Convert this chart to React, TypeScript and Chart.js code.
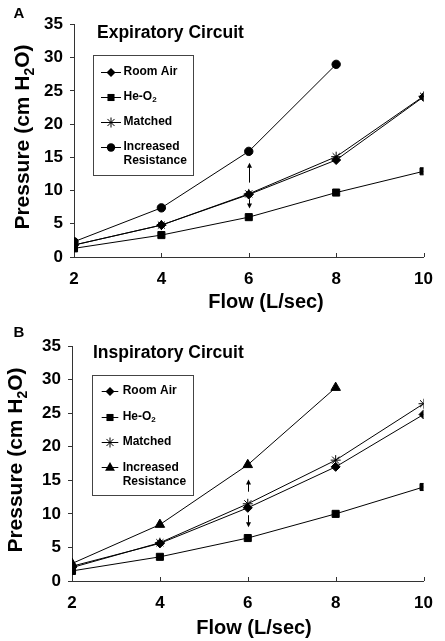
import React, { useEffect, useRef } from 'react';
import { Chart, registerables } from 'chart.js';

Chart.register(...registerables);

const FONT = '"Liberation Sans", Arial, Helvetica, sans-serif';

// ---------- data ----------
const flowAll = [2, 4, 6, 8, 10];
const flowIncreased = [2, 4, 6, 8];
const xTickValues = [2, 4, 6, 8, 10];
const yTickValues = [0, 5, 10, 15, 20, 25, 30, 35];

const legendLabels = ['Room Air', 'He-O2', 'Matched', 'Increased Resistance'];

// Panel A – Expiratory circuit
const expRoomAir = [1.8, 4.8, 9.4, 14.6, 24.1];
const expHeO2 = [1.3, 3.3, 6.0, 9.7, 12.9];
const expMatched = [1.8, 4.8, 9.5, 15.1, 24.2];
const expIncreased = [2.3, 7.4, 15.9, 29.0];
const expArrows = [
  [11.2, 14.2],
  [8.7, 7.3],
];

// Panel B – Inspiratory circuit
const inspRoomAir = [2.2, 5.6, 10.9, 17.0, 24.8];
const inspHeO2 = [1.5, 3.6, 6.4, 10.0, 14.0];
const inspMatched = [2.0, 5.7, 11.5, 18.0, 26.4];
const inspIncreased = [2.6, 8.4, 17.3, 28.8];
const inspArrows = [
  [13.3, 15.1],
  [9.8, 8.0],
];
const arrowFlow = 6;

type Marker = 'rectRot' | 'rect' | 'star' | 'circle' | 'triangle';

interface PanelCfg {
  letter: string;
  title: string;
  height: number;
  top: number;
  area: { l: number; r: number; t: number; b: number };
  values: number[][];
  markers: Marker[];
  arrows: number[][];
  letterPos: [number, number];
  titlePos: [number, number];
  yTitle: [number, number];
  xTitle: [number, number];
  legend: { x: number; y: number; w: number; h: number; lx0: number; lx1: number; tx: number; rows: number[]; line2: number };
}

const markerRadius: Record<Marker, number> = { rectRot: 4.5, rect: 5, star: 5, circle: 4.2, triangle: 5.5 };

const panels: PanelCfg[] = [
  {
    letter: 'A',
    title: 'Expiratory Circuit',
    height: 320,
    top: 0,
    area: { l: 74, r: 432, t: 24.5, b: 257 },
    values: [expRoomAir, expHeO2, expMatched, expIncreased],
    markers: ['rectRot', 'rect', 'star', 'circle'],
    arrows: expArrows,
    letterPos: [19, 14],
    titlePos: [97, 33],
    yTitle: [28.5, 137],
    xTitle: [266, 302],
    legend: { x: 92.5, y: 54.5, w: 100, h: 120, lx0: 101, lx1: 121, tx: 123.5, rows: [71.7, 96.7, 121.7, 146.7], line2: 14.3 },
  },
  {
    letter: 'B',
    title: 'Inspiratory Circuit',
    height: 321,
    top: 320,
    area: { l: 72, r: 432, t: 26, b: 261 },
    values: [inspRoomAir, inspHeO2, inspMatched, inspIncreased],
    markers: ['rectRot', 'rect', 'star', 'triangle'],
    arrows: inspArrows,
    letterPos: [19, 13],
    titlePos: [93, 33.3],
    yTitle: [21.5, 140],
    xTitle: [254, 308],
    legend: { x: 91.5, y: 55, w: 100.5, h: 119.5, lx0: 101.7, lx1: 118.3, tx: 122.7, rows: [70.7, 96.7, 121.7, 147.3], line2: 14.4 },
  },
];

function drawMarker(ctx: CanvasRenderingContext2D, m: Marker, x: number, y: number) {
  const r = markerRadius[m];
  ctx.save();
  ctx.fillStyle = '#000';
  ctx.strokeStyle = '#000';
  ctx.lineWidth = 1;
  ctx.beginPath();
  if (m === 'rectRot') {
    ctx.moveTo(x, y - r);
    ctx.lineTo(x + r, y);
    ctx.lineTo(x, y + r);
    ctx.lineTo(x - r, y);
    ctx.closePath();
    ctx.fill();
  } else if (m === 'rect') {
    const s = r * Math.SQRT1_2;
    ctx.rect(x - s, y - s, 2 * s, 2 * s);
    ctx.fill();
  } else if (m === 'circle') {
    ctx.arc(x, y, r, 0, Math.PI * 2);
    ctx.fill();
  } else if (m === 'triangle') {
    ctx.moveTo(x, y - r);
    ctx.lineTo(x + r * 0.9, y + r * 0.6);
    ctx.lineTo(x - r * 0.9, y + r * 0.6);
    ctx.closePath();
    ctx.fill();
  } else {
    for (let i = 0; i < 4; i++) {
      const a = (i * Math.PI) / 4;
      ctx.moveTo(x - r * Math.cos(a), y - r * Math.sin(a));
      ctx.lineTo(x + r * Math.cos(a), y + r * Math.sin(a));
    }
    ctx.stroke();
  }
  ctx.restore();
}

function drawSubText(ctx: CanvasRenderingContext2D, x: number, y: number, parts: [string, boolean][], size: number) {
  let cx = x;
  for (const [t, sub] of parts) {
    ctx.font = `bold ${sub ? Math.round(size * 0.68) : size}px ${FONT}`;
    ctx.fillText(t, cx, y + (sub ? size * 0.25 : 0));
    cx += ctx.measureText(t).width;
  }
}

function makeDecorPlugin(p: PanelCfg) {
  return {
    id: 'decor' + p.letter,
    afterDraw(chart: any) {
      const ctx: CanvasRenderingContext2D = chart.ctx;
      const xs = chart.scales.x;
      const ys = chart.scales.y;
      ctx.save();
      ctx.fillStyle = '#000';
      ctx.strokeStyle = '#333';
      ctx.lineWidth = 1;
      // inward x ticks
      const bottom = chart.chartArea.bottom;
      for (const v of xTickValues) {
        const px = Math.round(xs.getPixelForValue(v)) + 0.5;
        ctx.beginPath();
        ctx.moveTo(px, bottom);
        ctx.lineTo(px, bottom - 4);
        ctx.stroke();
      }
      // letter
      ctx.font = `bold 15px ${FONT}`;
      ctx.textAlign = 'center';
      ctx.textBaseline = 'middle';
      ctx.fillText(p.letter, p.letterPos[0], p.letterPos[1]);
      // title
      ctx.textAlign = 'left';
      ctx.font = `bold 17.5px ${FONT}`;
      ctx.fillText(p.title, p.titlePos[0], p.titlePos[1]);
      // x title
      ctx.textAlign = 'center';
      ctx.font = `bold 20px ${FONT}`;
      ctx.fillText('Flow (L/sec)', p.xTitle[0], p.xTitle[1]);
      // y title (rotated)
      ctx.save();
      ctx.translate(p.yTitle[0], p.yTitle[1]);
      ctx.rotate(-Math.PI / 2);
      ctx.textAlign = 'left';
      ctx.textBaseline = 'alphabetic';
      const ySize = 21;
      const yParts: [string, boolean][] = [
        ['Pressure (cm H', false],
        ['2', true],
        ['O)', false],
      ];
      let total = 0;
      for (const [t, sub] of yParts) {
        ctx.font = `bold ${sub ? Math.round(ySize * 0.68) : ySize}px ${FONT}`;
        total += ctx.measureText(t).width;
      }
      drawSubText(ctx, -total / 2, 0, yParts, ySize);
      ctx.restore();
      // legend
      const lg = p.legend;
      ctx.fillStyle = '#fff';
      ctx.fillRect(lg.x, lg.y, lg.w, lg.h);
      ctx.strokeStyle = '#444';
      ctx.strokeRect(Math.round(lg.x) + 0.5, Math.round(lg.y) + 0.5, Math.round(lg.w), Math.round(lg.h));
      ctx.fillStyle = '#000';
      ctx.textAlign = 'left';
      ctx.textBaseline = 'middle';
      legendLabels.forEach((lab, i) => {
        const y = lg.rows[i];
        ctx.strokeStyle = '#000';
        ctx.beginPath();
        ctx.moveTo(lg.lx0, Math.round(y) + 0.5);
        ctx.lineTo(lg.lx1, Math.round(y) + 0.5);
        ctx.stroke();
        drawMarker(ctx, p.markers[i], (lg.lx0 + lg.lx1) / 2, Math.round(y) + 0.5);
        ctx.fillStyle = '#000';
        if (lab === 'He-O2') {
          drawSubText(ctx, lg.tx, y, [['He-O', false], ['2', true]], 12);
        } else if (lab === 'Increased Resistance') {
          ctx.font = `bold 12px ${FONT}`;
          ctx.fillText('Increased', lg.tx, y);
          ctx.fillText('Resistance', lg.tx, y + lg.line2);
        } else {
          ctx.font = `bold 12px ${FONT}`;
          ctx.fillText(lab, lg.tx, y);
        }
      });
      // arrows at flow 6
      ctx.strokeStyle = '#000';
      ctx.fillStyle = '#000';
      const ax = Math.round(xs.getPixelForValue(arrowFlow)) + 0.5;
      for (const [from, to] of p.arrows) {
        const y0 = ys.getPixelForValue(from);
        const y1 = ys.getPixelForValue(to);
        const dir = y1 < y0 ? -1 : 1;
        ctx.beginPath();
        ctx.moveTo(ax, y0);
        ctx.lineTo(ax, y1 - dir * 4);
        ctx.stroke();
        ctx.beginPath();
        ctx.moveTo(ax, y1);
        ctx.lineTo(ax - 2.5, y1 - dir * 5);
        ctx.lineTo(ax + 2.5, y1 - dir * 5);
        ctx.closePath();
        ctx.fill();
      }
      ctx.restore();
    },
  };
}

function Panel({ p }: { p: PanelCfg }) {
  const ref = useRef<HTMLCanvasElement | null>(null);
  useEffect(() => {
    if (!ref.current) return;
    const datasets = p.values.map((vals, i) => {
      const xs = vals.length === flowAll.length ? flowAll : flowIncreased;
      const m = p.markers[i];
      return {
        label: legendLabels[i],
        data: vals.map((v, j) => ({ x: xs[j], y: v })),
        borderColor: '#000',
        backgroundColor: '#000',
        borderWidth: 1,
        pointStyle: m,
        pointRadius: markerRadius[m],
        pointBorderColor: '#000',
        pointBackgroundColor: '#000',
        pointBorderWidth: 1,
        tension: 0,
      };
    });
    const a = p.area;
    const chart = new Chart(ref.current, {
      type: 'line',
      data: { datasets },
      options: {
        animation: false,
        responsive: false,
        devicePixelRatio: 1,
        layout: { padding: { left: 0, top: a.t, right: 445 - a.r, bottom: 0 } },
        plugins: { legend: { display: false }, tooltip: { enabled: false } },
        elements: { line: { borderWidth: 1 } },
        scales: {
          x: {
            type: 'linear',
            min: 2,
            max: 10,
            afterBuildTicks: (s: any) => {
              s.ticks = xTickValues.map((v) => ({ value: v }));
            },
            afterFit: (s: any) => {
              s.height = p.height - a.b;
            },
            grid: { display: false, drawTicks: false },
            border: { display: true, color: '#333', width: 1 },
            ticks: {
              color: '#000',
              padding: 12,
              maxRotation: 0,
              font: { family: FONT, size: 17, weight: 'bold' },
            },
          },
          y: {
            type: 'linear',
            min: 0,
            max: 35,
            afterBuildTicks: (s: any) => {
              s.ticks = yTickValues.map((v) => ({ value: v }));
            },
            afterFit: (s: any) => {
              s.width = a.l;
            },
            grid: { drawOnChartArea: false, drawTicks: true, tickLength: 4, color: '#333' },
            border: { display: true, color: '#333', width: 1 },
            ticks: {
              color: '#000',
              padding: 7,
              font: { family: FONT, size: 17, weight: 'bold' },
            },
          },
        },
      } as any,
      plugins: [makeDecorPlugin(p)],
    });
    return () => chart.destroy();
  }, [p]);
  return (
    <canvas
      ref={ref}
      width={445}
      height={p.height}
      style={{ position: 'absolute', left: 0, top: p.top, width: 445, height: p.height, display: 'block' }}
    />
  );
}

export default function App() {
  return (
    <div style={{ position: 'absolute', left: 0, top: 0, width: 445, height: 641, background: '#fff' }}>
      {panels.map((p) => (
        <Panel key={p.letter} p={p} />
      ))}
    </div>
  );
}
